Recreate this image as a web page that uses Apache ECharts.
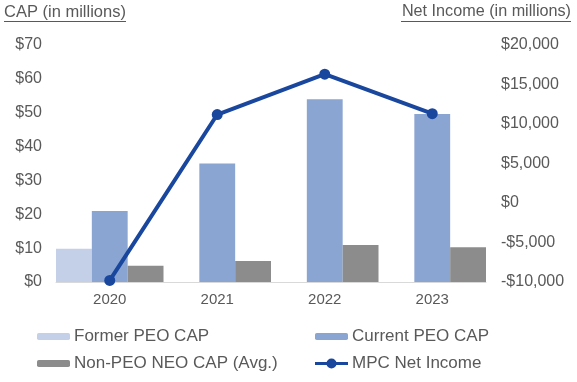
<!DOCTYPE html>
<html>
<head>
<meta charset="utf-8">
<script src="https://cdn.jsdelivr.net/npm/echarts@6/dist/echarts.min.js"></script>
<style>html,body{margin:0;padding:0;background:#fff}#c{width:577px;height:382px}</style>
</head>
<body>
<div id="c"></div>
<script>
var categories = ['2020', '2021', '2022', '2023'];
var formerPeoCap = [9.8, null, null, null];
var currentPeoCap = [21, 35, 54, 49.6];
var nonPeoNeoCap = [4.8, 6.2, 10.9, 10.3];
var mpcNetIncome = [-9800, 11200, 16300, 11300];
var leftTitle = 'CAP (in millions)';
var rightTitle = 'Net Income (in millions)';

var TXT = '#595959';
var FONT = 'Arial, "Liberation Sans", sans-serif';
var LINE_C = '#1A479E';
function fmtNum(v) { return String(v).replace(/\B(?=(\d{3})+(?!\d))/g, ','); }

var chart = echarts.init(document.getElementById('c'), null, {renderer: 'canvas'});
var legendText = {color: TXT, fontSize: 17, fontFamily: FONT, padding: [0, 0, 0, -1]};
chart.setOption({
  animation: false,
  textStyle: {fontFamily: FONT},
  grid: {left: 56, right: 91, top: 45, bottom: 100, containLabel: false},
  graphic: [
    {type: 'text', left: 4, top: 4, style: {text: leftTitle, fill: TXT, font: '16.5px ' + FONT}},
    {type: 'line', shape: {x1: 4, y1: 21.5, x2: 126, y2: 21.5}, style: {stroke: TXT, lineWidth: 1}},
    {type: 'text', right: 6, top: 4, style: {text: rightTitle, fill: TXT, font: '16.2px ' + FONT}},
    {type: 'line', shape: {x1: 401, y1: 21.5, x2: 571, y2: 21.5}, style: {stroke: TXT, lineWidth: 1}}
  ],
  legend: [
    {left: 37, top: 328, padding: 0, orient: 'vertical', itemGap: 10, itemWidth: 33, itemHeight: 7,
     textStyle: legendText, data: ['Former PEO CAP', 'Non-PEO NEO CAP (Avg.)']},
    {left: 315, top: 328, padding: 0, orient: 'vertical', itemGap: 10, itemWidth: 33, itemHeight: 7,
     textStyle: legendText, data: ['Current PEO CAP']},
    {left: 315, top: 355, padding: 0, orient: 'vertical', itemGap: 10, itemWidth: 33, itemHeight: 12,
     textStyle: legendText,
     data: [{name: 'MPC Net Income',
             icon: 'path://M0,4.5H33V7.5H0Z M21.5,6A5,5,0,1,1,11.5,6A5,5,0,1,1,21.5,6Z',
             itemStyle: {color: LINE_C}}]}
  ],
  xAxis: {
    type: 'category', data: categories, boundaryGap: true,
    axisLine: {lineStyle: {color: '#D9D9D9', width: 1}},
    axisTick: {show: false},
    axisLabel: {color: TXT, fontSize: 15, margin: 10}
  },
  yAxis: [
    {type: 'value', min: 0, max: 70, interval: 10, position: 'left',
     axisLine: {show: false}, axisTick: {show: false}, splitLine: {show: false},
     axisLabel: {color: TXT, fontSize: 16, margin: 14, formatter: function (v) { return '$' + v; }}},
    {type: 'value', min: -10000, max: 20000, interval: 5000, position: 'right',
     axisLine: {show: false}, axisTick: {show: false}, splitLine: {show: false},
     axisLabel: {color: TXT, fontSize: 16, margin: 15, formatter: function (v) {
       return v < 0 ? '-$' + fmtNum(-v) : '$' + fmtNum(v); }}}
  ],
  series: [
    {name: 'Former PEO CAP', type: 'bar', data: formerPeoCap, barGap: '0%', barCategoryGap: '0%',
     itemStyle: {color: '#C3D0E7'}},
    {name: 'Current PEO CAP', type: 'bar', data: currentPeoCap, barGap: '0%', barCategoryGap: '0%',
     itemStyle: {color: '#8AA5D1'}},
    {name: 'Non-PEO NEO CAP (Avg.)', type: 'bar', data: nonPeoNeoCap, barGap: '0%', barCategoryGap: '0%',
     itemStyle: {color: '#8C8C8C'}},
    {name: 'MPC Net Income', type: 'line', yAxisIndex: 1, data: mpcNetIncome,
     symbol: 'circle', symbolSize: 11, lineStyle: {color: LINE_C, width: 4},
     itemStyle: {color: LINE_C}, z: 5}
  ]
});
</script>
</body>
</html>
